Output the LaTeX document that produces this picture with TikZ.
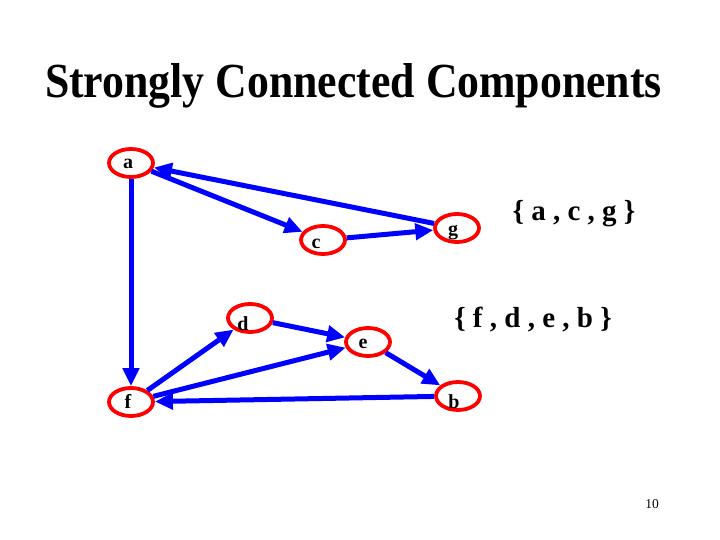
\documentclass[tikz,border=0pt]{standalone}
\usepackage{fontspec}
\setmainfont{Liberation Serif}
\usetikzlibrary{shapes.geometric,arrows.meta}
\begin{document}
\begin{tikzpicture}[x=1pt,y=-1pt,
  vtx/.style={ellipse,draw=red,line width=3.8pt,minimum width=44pt,minimum height=28pt,inner sep=0pt},
  vlab/.style={font=\bfseries\fontsize{20}{20}\selectfont,inner sep=0pt,text height=10pt,text depth=0pt},
  edge/.style={draw=blue,line width=5pt,-{Triangle[length=18pt,width=16pt]}},
  comp/.style={font=\bfseries\fontsize{29}{29}\selectfont,inner sep=0pt}
]
\useasboundingbox[fill=white] (0,0) rectangle (720,540);
\node[anchor=base,inner sep=0pt] (title) at (353.5,98)
  {\resizebox{617pt}{34pt}{\bfseries Strongly Connected Components}};
\node[vtx,label={[vlab,xshift=-3pt,yshift=-1pt]center:a}] (a) at (131,163) {};
\node[vtx,label={[vlab,xshift=-7pt,yshift=-3pt]center:c}] (c) at (323,240) {};
\node[vtx,label={[vlab,xshift=-4pt,yshift=-2.5pt]center:g}] (g) at (457,228) {};
\node[vtx,label={[vlab,xshift=-7pt,yshift=-7pt]center:d}] (d) at (250,318) {};
\node[vtx,label={[vlab,xshift=-5pt,yshift=-1pt]center:e}] (e) at (368,342) {};
\node[vtx,label={[vlab,xshift=-3pt,yshift=-1pt]center:f}] (f) at (131,402) {};
\node[vtx,label={[vlab,xshift=-4pt,yshift=-7pt]center:b}] (b) at (458,396) {};
\draw[edge] (a) -- (c);
\draw[edge] (c) -- (g);
\draw[edge] (g) -- (a);
\draw[edge] (a) -- (f);
\draw[edge] (f) -- (d);
\draw[edge] (d) -- (e);
\draw[edge] (f) -- (e);
\draw[edge] (e) -- (b);
\draw[edge] (b) -- (f);
\node[comp] (acg) at (574,214) {\{ a , c , g \}};
\node[comp] (fdeb) at (533,320) {\{ f , d , e , b \}};
\node[font=\fontsize{13.5}{13.5}\selectfont,inner sep=0pt] (pg) at (652,504) {10};
\end{tikzpicture}
\end{document}
